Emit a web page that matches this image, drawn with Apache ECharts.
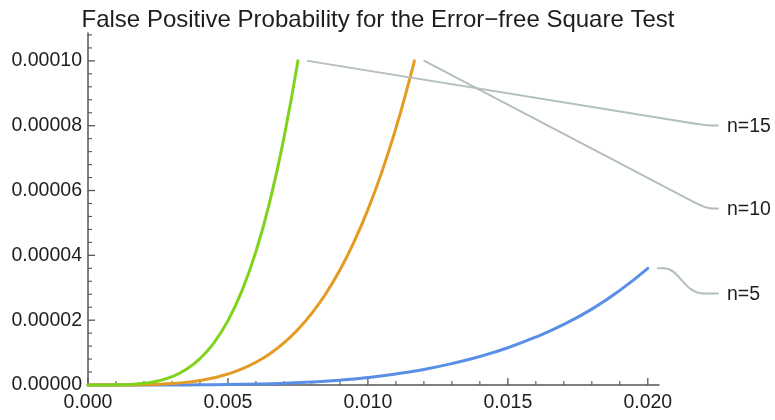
<!DOCTYPE html>
<html>
<head>
<meta charset="utf-8">
<script src="https://cdn.jsdelivr.net/npm/echarts@6/dist/echarts.min.js"></script>
<style>
  html, body { margin: 0; padding: 0; background: #ffffff; }
  #chart { width: 775px; height: 420px; }
</style>
</head>
<body>
<div id="chart"></div>
<script>
// Chart text and tick labels
const titleText = 'False Positive Probability for the Error\u2212free Square Test';
const xTicks = [0, 0.005, 0.01, 0.015, 0.02];
const yTicks = [0, 0.00002, 0.00004, 0.00006, 0.00008, 0.0001];
const seriesNames = ['n=5', 'n=10', 'n=15'];

// n = 5
const n5X = [0, 0.001, 0.002, 0.003, 0.004, 0.005, 0.006, 0.007, 0.008, 0.009, 0.010,
             0.011, 0.012, 0.013, 0.014, 0.015, 0.016, 0.017, 0.018, 0.019, 0.020];
const n5Y = [0, 2.3e-10, 3.6e-9, 1.82e-8, 5.76e-8, 1.41e-7, 2.92e-7, 5.4e-7, 9.2e-7, 1.48e-6, 2.3e-6,
             3.4e-6, 4.8e-6, 6.6e-6, 8.8e-6, 1.15e-5, 1.48e-5, 1.87e-5, 2.34e-5, 2.92e-5, 3.6e-5];

// n = 10
const n10X = [0, 0.0005, 0.001, 0.0015, 0.002, 0.0025, 0.003, 0.0035, 0.004, 0.0045, 0.005, 0.0055,
              0.006, 0.0065, 0.007, 0.0075, 0.008, 0.0085, 0.009, 0.0095, 0.010, 0.0105, 0.011, 0.0115, 0.01166];
const n10Y = [0, 3.4e-10, 5.41e-9, 2.74e-8, 8.66e-8, 2.11e-7, 4.38e-7, 8.12e-7, 1.385e-6, 2.218e-6, 3.381e-6, 4.95e-6,
              7.011e-6, 9.657e-6, 1.299e-5, 1.712e-5, 2.216e-5, 2.824e-5, 3.549e-5, 4.406e-5, 5.41e-5, 6.576e-5, 7.921e-5, 9.462e-5, 1.0e-4];

// n = 15
const n15X = [0, 0.0005, 0.001, 0.0015, 0.002, 0.0025, 0.003, 0.0035, 0.004, 0.0045, 0.005,
              0.0055, 0.006, 0.0065, 0.007, 0.0075];
const n15Y = [0, 2.0e-9, 3.2e-8, 1.61e-7, 5.08e-7, 1.24e-6, 2.57e-6, 4.77e-6, 8.13e-6, 1.303e-5, 1.986e-5,
              2.908e-5, 4.118e-5, 5.672e-5, 7.629e-5, 1.0e-4];

// Styling and layout
const FONT = '"Liberation Sans", Arial, Helvetica, sans-serif';
const LABEL_SIZE = 19.5;
const TEXT_COLOR = '#1e1e1e';
const AXIS_COLOR = '#555555';
const LEADER_COLOR = '#b3bfbf';
const COLORS = ['#5a8fe6', '#e49b22', '#7fd31c'];
const X_MAX = 0.0204;
const Y_MAX = 0.0001086;
const X_MINOR_STEP = 0.001;
const Y_MINOR_STEP = 0.000004;
const MAJOR_LEN = 7;
const MINOR_LEN = 4;
// Callout label anchors (pixel layout): text left edge and vertical centre
const LABEL_X = 727;
const LABEL_Y = [294.5, 209.5, 126.5];
const LEADER_GAP = 10;

function minorValues(step, max, majorStep) {
  const out = [];
  for (let i = 1; i * step <= max + 1e-12; i++) {
    const v = +(i * step).toPrecision(10);
    const r = v / majorStep;
    if (Math.abs(r - Math.round(r)) > 1e-6) out.push(v);
  }
  return out;
}

const xMinor = minorValues(X_MINOR_STEP, X_MAX, 0.005);
const yMinor = minorValues(Y_MINOR_STEP, Y_MAX, 0.00002);

const zip = (xs, ys) => xs.map((x, i) => [x, ys[i]]);
const seriesData = [zip(n5X, n5Y), zip(n10X, n10Y), zip(n15X, n15Y)];

const chart = echarts.init(document.getElementById('chart'), null, { renderer: 'canvas' });

const option = {
  animation: false,
  backgroundColor: '#ffffff',
  title: {
    text: titleText,
    left: 373,
    top: 3,
    textAlign: 'center',
    textStyle: { fontFamily: FONT, fontSize: 24, fontWeight: 'normal', color: TEXT_COLOR }
  },
  grid: { left: 88, right: 116, top: 33, bottom: 35, containLabel: false },
  xAxis: {
    type: 'value', min: 0, max: X_MAX,
    axisLine: { show: true, onZero: false, lineStyle: { color: AXIS_COLOR, width: 1.5 } },
    axisTick: { show: false },
    axisLabel: {
      customValues: xTicks, margin: 8, color: TEXT_COLOR, fontFamily: FONT, fontSize: LABEL_SIZE,
      formatter: v => v.toFixed(3)
    },
    splitLine: { show: false }
  },
  yAxis: {
    type: 'value', min: 0, max: Y_MAX,
    axisLine: { show: true, onZero: false, lineStyle: { color: AXIS_COLOR, width: 1.5 } },
    axisTick: { show: false },
    axisLabel: {
      customValues: yTicks, margin: 6, color: TEXT_COLOR, fontFamily: FONT, fontSize: LABEL_SIZE,
      formatter: v => v.toFixed(5)
    },
    splitLine: { show: false }
  },
  series: seriesData.map((d, i) => ({
    name: seriesNames[i],
    type: 'line',
    data: d,
    showSymbol: false,
    symbol: 'none',
    smooth: 0.5,
    clip: false,
    lineStyle: { color: COLORS[i], width: 3, cap: 'round' },
    z: 3 + i
  }))
};

chart.setOption(option);

const toPx = (pt) => chart.convertToPixel({ xAxisIndex: 0, yAxisIndex: 0 }, pt);
const graphics = [];

// Inward-pointing major and minor ticks on both axes
const origin = toPx([0, 0]);
function xTick(v, len, w) {
  const p = toPx([v, 0]);
  graphics.push({ type: 'line', shape: { x1: p[0], y1: origin[1], x2: p[0], y2: origin[1] - len },
    style: { stroke: AXIS_COLOR, lineWidth: w }, z: 1 });
}
function yTick(v, len, w) {
  const p = toPx([0, v]);
  graphics.push({ type: 'line', shape: { x1: origin[0], y1: p[1], x2: origin[0] + len, y2: p[1] },
    style: { stroke: AXIS_COLOR, lineWidth: w }, z: 1 });
}
xTicks.forEach(v => xTick(v, MAJOR_LEN, 1.3));
xMinor.forEach(v => xTick(v, MINOR_LEN, 1.1));
yTicks.forEach(v => yTick(v, MAJOR_LEN, 1.3));
yMinor.forEach(v => yTick(v, MINOR_LEN, 1.1));

// Callout leaders run from just past each curve's last point to its label
seriesData.forEach((d, i) => {
  const end = d[d.length - 1];
  const p = toPx(end);
  const sx = p[0] + LEADER_GAP, sy = p[1];
  const ly = LABEL_Y[i] - 1;
  const ex = LABEL_X - 9;
  const lineStyle = { fill: null, stroke: LEADER_COLOR, lineWidth: 2, lineCap: 'round' };
  if (Math.abs(ly - sy) < 40) {
    // short S-shaped leader
    graphics.push({ type: 'polyline', shape: { points: [[sx, sy], [sx + 6, sy]] }, style: lineStyle, z: 10 });
    graphics.push({ type: 'bezierCurve',
      shape: { x1: sx + 6, y1: sy, cpx1: sx + 22, cpy1: sy, cpx2: sx + 26, cpy2: ly, x2: ex - 14, y2: ly },
      style: lineStyle, z: 10 });
    graphics.push({ type: 'polyline', shape: { points: [[ex - 14, ly], [ex, ly]] }, style: lineStyle, z: 10 });
  } else {
    // long straight leader with a rounded elbow into the label
    const kx = ex - 24;
    const t = (kx - sx) / (ex - 12 - sx);
    const ky = sy + (ly - sy) * t;
    graphics.push({ type: 'polyline', shape: { points: [[sx, sy], [kx, ky]] }, style: lineStyle, z: 10 });
    graphics.push({ type: 'bezierCurve',
      shape: { x1: kx, y1: ky, cpx1: ex - 12, cpy1: ly, x2: ex - 6, y2: ly },
      style: lineStyle, z: 10 });
    graphics.push({ type: 'polyline', shape: { points: [[ex - 6, ly], [ex, ly]] }, style: lineStyle, z: 10 });
  }
  graphics.push({
    type: 'text',
    x: LABEL_X,
    y: LABEL_Y[i],
    style: {
      text: seriesNames[i],
      fill: TEXT_COLOR,
      font: `${LABEL_SIZE}px ${FONT}`,
      textAlign: 'left',
      textVerticalAlign: 'middle'
    },
    z: 10
  });
});
chart.setOption({ graphic: graphics });
</script>
</body>
</html>
